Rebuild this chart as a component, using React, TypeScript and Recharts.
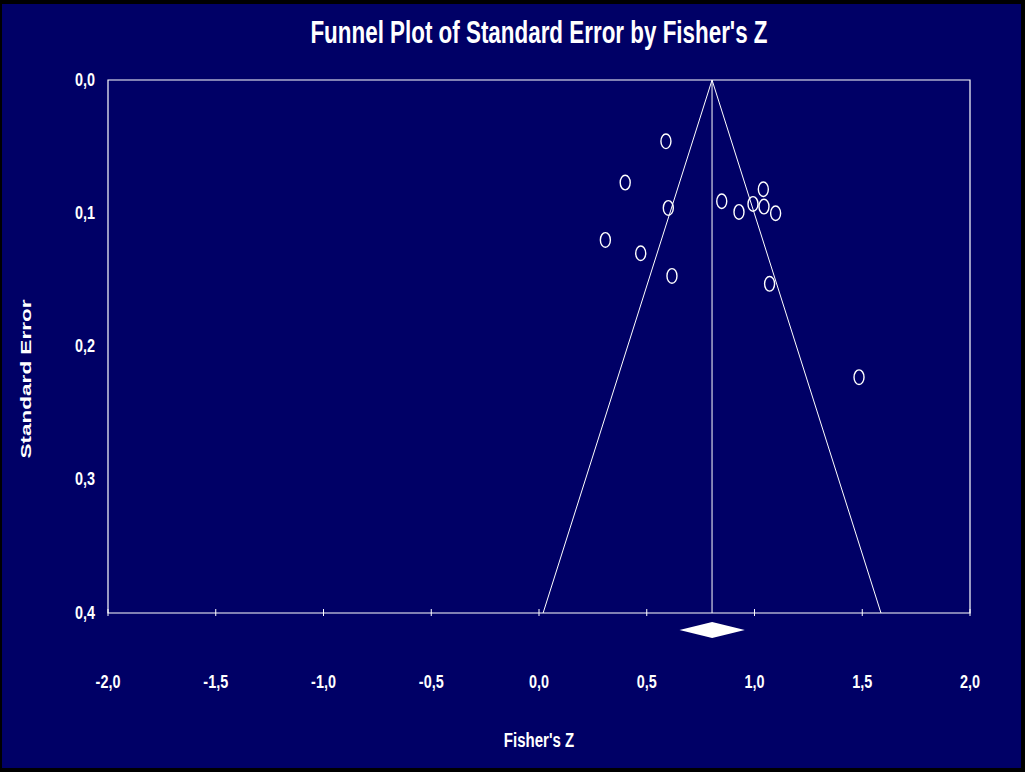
import {
  ScatterChart,
  Scatter,
  XAxis,
  YAxis,
  ReferenceLine,
  ReferenceArea,
} from "recharts";

const X_TICKS = [-2, -1.5, -1, -0.5, 0, 0.5, 1, 1.5, 2];
const Y_TICKS = [0, 0.1, 0.2, 0.3, 0.4];

// observed studies (Fisher's Z, standard error)
const fisherZ = [0.589, 0.4, 0.6, 0.308, 0.472, 0.617, 0.848, 0.928, 0.993, 1.041, 1.044, 1.098, 1.07, 1.485];
const stdErr = [0.046, 0.077, 0.096, 0.12, 0.13, 0.147, 0.091, 0.099, 0.093, 0.082, 0.095, 0.1, 0.153, 0.223];

const MEAN_Z = 0.803;
const FUNNEL_LEFT = 0.019;
const FUNNEL_RIGHT = 1.587;
const CI_LOW = 0.652;
const CI_HIGH = 0.955;
const DIAMOND_TOP = 0.4068;
const DIAMOND_BOTTOM = 0.4188;

const NAVY = "#000066";
const ARIAL = "'Liberation Sans', Arial, sans-serif";

const points = fisherZ.map((z, i) => ({ z, se: stdErr[i] }));

const fmt = (v: number) => v.toFixed(1).replace(".", ",");

function XTick({ x, y, payload }: any) {
  return (
    <g>
      <line x1={x} x2={x} y1={y - 4} y2={y + 3} stroke="#fff" />
      <text
        transform={`translate(${x},${y + 75}) scale(0.8,1)`}
        textAnchor="middle"
        fill="#fff"
        fontSize={18}
        fontWeight="bold"
        fontFamily={ARIAL}
      >
        {fmt(payload.value)}
      </text>
    </g>
  );
}

function YTick({ x, y, payload }: any) {
  return (
    <text
      transform={`translate(${x - 13},${y + 5.5}) scale(0.8,1)`}
      textAnchor="end"
      fill="#fff"
      fontSize={18}
      fontWeight="bold"
      fontFamily={ARIAL}
    >
      {fmt(payload.value)}
    </text>
  );
}

function Ring({ cx, cy }: any) {
  return <ellipse cx={cx} cy={cy} rx={5} ry={7.3} fill="none" stroke="#fff" strokeWidth={1.4} />;
}

function Diamond({ x, y, width, height }: any) {
  const top = Math.min(y, y + height);
  const h = Math.abs(height);
  const cx = x + width / 2;
  const cy = top + h / 2;
  return <polygon points={`${x},${cy} ${cx},${top} ${x + width},${cy} ${cx},${top + h}`} fill="#fff" />;
}

export default function App() {
  return (
    <div style={{ position: "absolute", left: 0, top: 0, width: 1025, height: 772, background: "#000", overflow: "hidden" }}>
      <div style={{ position: "absolute", left: 2, top: 4, width: 1019, height: 764, background: NAVY }} />
      <div
        style={{
          position: "absolute",
          left: 0,
          top: 16,
          width: 1078,
          textAlign: "center",
          color: "#fff",
          fontFamily: ARIAL,
          fontWeight: "bold",
          fontSize: 32,
          lineHeight: "32px",
          whiteSpace: "nowrap",
          transform: "scaleX(0.7)",
          transformOrigin: "539px 0",
        }}
      >
        Funnel Plot of Standard Error by Fisher's Z
      </div>
      <div
        style={{
          position: "absolute",
          left: 25,
          top: 379,
          transform: "translate(-50%, -50%) rotate(-90deg) scaleX(1.5)",
          color: "#fff",
          fontFamily: ARIAL,
          fontWeight: "bold",
          fontSize: 15,
          lineHeight: "15px",
          whiteSpace: "nowrap",
        }}
      >
        Standard Error
      </div>
      <div
        style={{
          position: "absolute",
          left: 0,
          top: 731,
          width: 1078,
          textAlign: "center",
          color: "#fff",
          fontFamily: ARIAL,
          fontWeight: "bold",
          fontSize: 19.5,
          lineHeight: "19.5px",
          whiteSpace: "nowrap",
          transform: "scaleX(0.77)",
          transformOrigin: "539px 0",
        }}
      >
        Fisher's Z
      </div>
      <div style={{ position: "absolute", left: 0, top: 0 }}>
        <ScatterChart width={1025} height={772} margin={{ top: 80, right: 55, left: 48, bottom: 129 }}>
          <XAxis
            type="number"
            dataKey="z"
            domain={[-2, 2]}
            ticks={X_TICKS}
            axisLine={false}
            tickLine={false}
            tickSize={0}
            tickMargin={0}
            height={30}
            tick={<XTick />}
            interval={0}
          />
          <YAxis
            type="number"
            dataKey="se"
            domain={[0, 0.4]}
            ticks={Y_TICKS}
            reversed
            axisLine={false}
            tickLine={false}
            tickSize={0}
            tickMargin={0}
            width={60}
            tick={<YTick />}
            interval={0}
          />
          <ReferenceArea x1={-2} x2={2} y1={0} y2={0.4} fill="none" stroke="#fff" strokeWidth={1.2} />
          <ReferenceLine x={MEAN_Z} stroke="#fff" />
          <ReferenceLine segment={[{ x: MEAN_Z, y: 0 }, { x: FUNNEL_LEFT, y: 0.4 }]} stroke="#fff" />
          <ReferenceLine segment={[{ x: MEAN_Z, y: 0 }, { x: FUNNEL_RIGHT, y: 0.4 }]} stroke="#fff" />
          <ReferenceArea
            x1={CI_LOW}
            x2={CI_HIGH}
            y1={DIAMOND_TOP}
            y2={DIAMOND_BOTTOM}
            ifOverflow="visible"
            shape={<Diamond />}
          />
          <Scatter data={points} shape={<Ring />} isAnimationActive={false} />
        </ScatterChart>
      </div>
    </div>
  );
}
